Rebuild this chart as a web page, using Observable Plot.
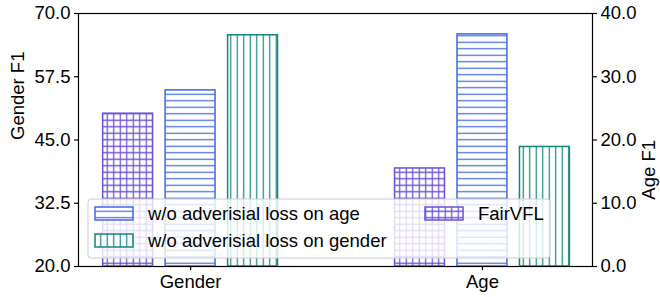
<!DOCTYPE html>
<html><head><meta charset="utf-8">
<script src="https://cdn.jsdelivr.net/npm/d3@7"></script>
<script src="https://cdn.jsdelivr.net/npm/@observablehq/plot@0.6"></script>
<style>body{margin:0;background:#fff}</style>
</head><body><div id="chart"></div>
<script>
const groups = ["Gender", "Age"];
const series = ["FairVFL", "w/o adverisial loss on age", "w/o adverisial loss on gender"];
const genderF1 = [50.2, 54.8, 65.7];
const ageF1 = [15.5, 36.7, 18.9];
const genderTicks = [20, 32.5, 45, 57.5, 70];
const ageTicks = [0, 10, 20, 30, 40];
const colors = ["#6a50d6", "#4169e1", "#13877d"];
const legendOrder = [1, 2, 0];

const genderDomain = [20, 70], ageDomain = [0, 40];
const ageToLeft = v => genderDomain[0] + (v - ageDomain[0]) * (genderDomain[1] - genderDomain[0]) / (ageDomain[1] - ageDomain[0]);
const leftToAge = v => ageDomain[0] + (v - genderDomain[0]) * (ageDomain[1] - ageDomain[0]) / (genderDomain[1] - genderDomain[0]);

const offset = 0.214, half = 0.0855;
const rows = [];
series.forEach((s, i) => {
  rows.push({group: 0, series: i, pos: 0 + (i - 1) * offset, y: genderF1[i]});
  rows.push({group: 1, series: i, pos: 1 + (i - 1) * offset, y: ageToLeft(ageF1[i])});
});

const FS = 18.5;
const font = "'Liberation Sans', Arial, sans-serif";

const barMarks = series.map((s, i) => Plot.rect(rows.filter(r => r.series === i), {
  x1: r => r.pos - half, x2: r => r.pos + half,
  y1: r => genderDomain[0], y2: "y",
  fill: `url(#hatch-${i})`, stroke: colors[i], strokeWidth: 1.5
}));

const svg = Plot.plot({
  width: 660, height: 297,
  marginLeft: 78, marginRight: 68, marginTop: 13, marginBottom: 31,
  style: {fontFamily: font, fontSize: FS + "px", color: "black", background: "white", overflow: "visible"},
  x: {domain: [-0.384, 1.377], axis: null},
  y: {domain: genderDomain, axis: null},
  marks: [
    ...barMarks,
    Plot.axisY(genderTicks, {anchor: "left", tickSize: 4, tickPadding: 4, tickFormat: d => d.toFixed(1), fontSize: FS, label: null, strokeWidth: 1.2}),
    Plot.axisY(ageTicks.map(ageToLeft), {anchor: "right", tickSize: 4, tickPadding: 4, tickFormat: d => leftToAge(d).toFixed(1), fontSize: FS, label: null, strokeWidth: 1.2}),
    Plot.axisX([0, 1], {anchor: "bottom", tickSize: 4, tickPadding: 4, tickFormat: d => groups[d], fontSize: FS, label: null, strokeWidth: 1.2}),
    Plot.text(["Gender F1"], {frameAnchor: "left", dx: -60, rotate: -90, fontSize: FS}),
    Plot.text(["Age F1"], {frameAnchor: "right", dx: 57, rotate: -90, fontSize: FS}),
    Plot.frame({stroke: "black", strokeWidth: 1.2})
  ]
});

const root = d3.select(svg);
const defs = root.insert("defs", ":first-child");
const sp = 6.5;
// cross hatch
let p = defs.append("pattern").attr("id", "hatch-0").attr("patternUnits", "userSpaceOnUse").attr("width", sp).attr("height", sp);
p.append("rect").attr("width", sp).attr("height", sp).attr("fill", "white");
p.append("path").attr("d", `M0,${sp/2}H${sp}M${sp/2},0V${sp}`).attr("stroke", colors[0]).attr("stroke-width", 1.2);
// horizontal
p = defs.append("pattern").attr("id", "hatch-1").attr("patternUnits", "userSpaceOnUse").attr("width", sp).attr("height", sp);
p.append("rect").attr("width", sp).attr("height", sp).attr("fill", "white");
p.append("path").attr("d", `M0,${sp/2}H${sp}`).attr("stroke", colors[1]).attr("stroke-width", 1.2);
// vertical
p = defs.append("pattern").attr("id", "hatch-2").attr("patternUnits", "userSpaceOnUse").attr("width", sp).attr("height", sp);
p.append("rect").attr("width", sp).attr("height", sp).attr("fill", "white");
p.append("path").attr("d", `M${sp/2},0V${sp}`).attr("stroke", colors[2]).attr("stroke-width", 1.2);

// legend (inside plot, lower left)
const lg = root.append("g").attr("font-family", font).attr("font-size", FS).attr("text-anchor", "start");
lg.append("rect").attr("x", 88).attr("y", 199).attr("width", 462).attr("height", 59).attr("rx", 3)
  .attr("fill", "white").attr("fill-opacity", 0.8).attr("stroke", "#cccccc").attr("stroke-width", 1);
const slots = [{x: 95, y: 207}, {x: 95, y: 234}, {x: 425, y: 207}];
legendOrder.forEach((si, k) => {
  const s = slots[k];
  lg.append("rect").attr("x", s.x).attr("y", s.y).attr("width", 38).attr("height", 13)
    .attr("fill", `url(#hatch-${si})`).attr("stroke", colors[si]).attr("stroke-width", 1.5);
  lg.append("text").attr("x", s.x + 53).attr("y", s.y + 6.5).attr("dy", "0.35em")
    .attr("text-anchor", "start").attr("fill", "black").text(series[si]);
});

document.getElementById("chart").appendChild(svg);
</script>
</body></html>
